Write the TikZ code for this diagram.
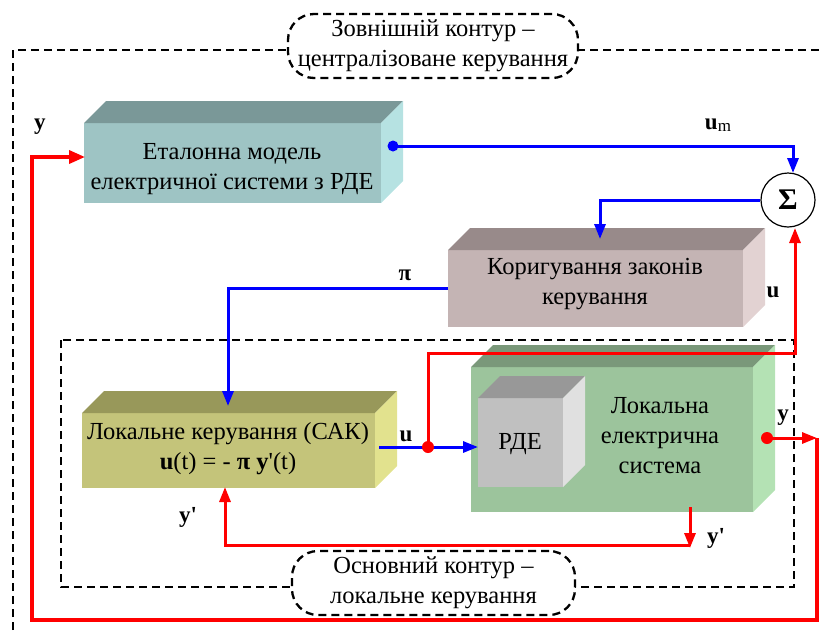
\documentclass[tikz,border=0pt]{standalone}
\usepackage{fontspec}
\setmainfont{Liberation Serif}[Ligatures=TeXOff]
\usetikzlibrary{arrows.meta,calc}
\definecolor{etF}{HTML}{9EC4C4}\definecolor{etT}{HTML}{7A9898}\definecolor{etS}{HTML}{B6E2E2}
\definecolor{koF}{HTML}{C4B4B4}\definecolor{koT}{HTML}{988A8A}\definecolor{koS}{HTML}{E2D2D2}
\definecolor{loF}{HTML}{C4C47A}\definecolor{loT}{HTML}{98985A}\definecolor{loS}{HTML}{E2E28E}
\definecolor{syF}{HTML}{9CC49C}\definecolor{syT}{HTML}{7A987A}\definecolor{syS}{HTML}{B4E2B4}
\definecolor{rdF}{HTML}{C0C0C0}\definecolor{rdT}{HTML}{989898}\definecolor{rdS}{HTML}{E0E0E0}
\newcommand\cubefaces[4]{%
  \fill[#2] (#1.north west) -- ++(#4,-#4) -- ($(#1.north east)+(#4,-#4)$) -- (#1.north east) -- cycle;
  \fill[#3] (#1.north east) -- ($(#1.north east)+(#4,-#4)$) -- ($(#1.south east)+(#4,-#4)$) -- (#1.south east) -- cycle;}
\tikzset{
  face/.style={inner sep=0pt, outer sep=0pt},
  txt/.style={align=center, font=\fontsize{24.5}{30}\selectfont},
  bl/.style={draw=blue, line width=3pt},
  rd/.style={draw=red, line width=3pt},
  arr/.style={-{Triangle[length=15pt,width=11pt]}},
  dsh/.style={dash pattern=on 8pt off 5pt, line width=2.3pt},
  lbl/.style={font=\fontsize{23}{26}\selectfont\bfseries, inner sep=0pt},
  cloudbox/.style={draw, dsh, rounded corners=26pt, fill=white, align=center, font=\fontsize{24.5}{30}\selectfont, inner sep=0pt},
}
\begin{document}
\begin{tikzpicture}[x=1pt,y=-1pt]
\useasboundingbox (0,0) rectangle (823,630);
% dashed contours
\draw[dsh] (13,630) -- (13,50) -- (823,50);
\draw[dsh] (61,340) rectangle (794,587);
% boxes
\node[face, fill=etF, minimum width=297pt, minimum height=80pt] (etal) at (232.5,163) {};
\cubefaces{etal}{etT}{etS}{22}
\node[txt] (etalt) at (232,169) {Еталонна модель\\електричної системи з РДЕ};
\node[face, fill=koF, minimum width=295pt, minimum height=77pt] (kor) at (595.5,288.5) {};
\cubefaces{kor}{koT}{koS}{22}
\node[txt] (kort) at (595,284) {Коригування законів\\керування};
\node[face, fill=loF, minimum width=293pt, minimum height=75pt] (lok) at (228.5,450.5) {};
\cubefaces{lok}{loT}{loS}{22}
\node[txt] (lokt) at (228,449) {Локальне керування (САК)\\\textbf{u}(t) = - \textbf{π} \textbf{y}'(t)};
\node[face, fill=syF, minimum width=282pt, minimum height=145pt] (sys) at (612,439.5) {};
\cubefaces{sys}{syT}{syS}{22}
\node[txt] (syst) at (660,436) {Локальна\\електрична\\система};
\node[face, fill=rdF, minimum width=85pt, minimum height=89pt] (rde) at (520.5,442.5) {};
\cubefaces{rde}{rdT}{rdS}{22}
\node[txt] (rdet) at (520,444) {РДЕ};
% sum
\node[draw, circle, line width=1.2pt, minimum size=54pt, inner sep=0pt, fill=white] (sum) at (788,200) {\fontsize{30}{30}\selectfont\bfseries Σ};
% coordinates
\coordinate (um0) at (393,146);
\coordinate (sumT) at (793,173);
\coordinate (korT) at (600,239);
\coordinate (lokT) at (228,406);
\coordinate (uS) at (379,447);
\coordinate (rdeIn) at (478,447);
\coordinate (jn) at (428,447);
\coordinate (jup) at (428,353);
\coordinate (sumB) at (795,228);
\coordinate (sysB) at (690,507);
\coordinate (ypd) at (690,548);
\coordinate (ypc) at (690,545);
\coordinate (lokB) at (225,487);
\coordinate (yo) at (767,438);
\coordinate (yr) at (817,438);
\coordinate (yb) at (817,620);
\coordinate (ylb) at (32,620);
\coordinate (yin) at (85,157);
% blue connectors
\draw[bl,arr] (um0) -| (sumT);
\fill[blue] (um0) circle (5.5pt);
\draw[bl,arr] (sum.west) -| (korT);
\draw[bl,arr] (kor.west) -| (lokT);
\draw[bl,arr] (uS) -- (rdeIn);
% red connectors
\draw[rd,arr] (jn) -- (jup) -| (sumB);
\fill[red] (jn) circle (6pt);
\draw[rd,arr] (sysB) -- (ypd);
\draw[rd,arr] (ypc) -| (lokB);
\draw[rd,arr] (yo) -- (yr);
\fill[red] (yo) circle (6pt);
\draw[rd,line width=3.5pt,-{Triangle[length=16pt,width=13pt]}] (yr) -- (yb) -- (ylb) |- (yin);
% labels
\node[lbl] (ly1) at (40,127) {y};
\node[lbl] (lum) at (718,125) {u\raisebox{-2pt}{\fontsize{17}{17}\selectfont\mdseries m}};
\node[lbl] (lpi) at (405,275) {π};
\node[lbl] (lu1) at (773,292) {u};
\node[lbl] (lu2) at (406,436) {u};
\node[lbl] (lyp1) at (188,517) {y'};
\node[lbl] (lyp2) at (716,538) {y'};
\node[lbl] (ly2) at (783,418) {y};
% contour labels
\node[cloudbox, minimum width=290pt, minimum height=64pt] (outer) at (433,46) {Зовнішній контур –\\централізоване керування};
\node[cloudbox, minimum width=283pt, minimum height=64pt] (inner) at (433.5,583) {Основний контур –\\локальне керування};
\end{tikzpicture}
\end{document}
